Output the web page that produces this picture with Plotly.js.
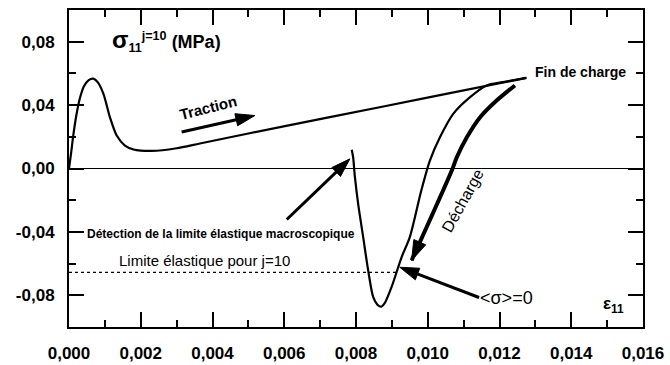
<!DOCTYPE html>
<html><head><meta charset="utf-8">
<script src="https://cdn.plot.ly/plotly-3.0.1.min.js"></script>
<style>html,body{margin:0;padding:0;background:#fff}</style>
</head><body><div id="chart" style="width:670px;height:365px"></div>
<script>
// Loading branch (traction) up to "Fin de charge"
const loadX = [0, 0.00006, 0.00012, 0.00020, 0.00030, 0.00042, 0.00055, 0.00068, 0.00080, 0.00096, 0.00114, 0.00133, 0.00156, 0.00180, 0.00200, 0.00230, 0.00260, 0.00300, 0.00365, 0.00500, 0.00727, 0.01006, 0.01275];
const loadY = [0, 0.010, 0.021, 0.033, 0.044, 0.052, 0.0558, 0.0567, 0.0545, 0.0471, 0.0324, 0.0208, 0.0145, 0.0120, 0.0113, 0.0111, 0.0115, 0.0128, 0.0158, 0.0221, 0.0324, 0.0450, 0.0572];
// Unloading branch (thin curve)
const unloadX = [0.01275, 0.01210, 0.01164, 0.01118, 0.01071, 0.01034, 0.01006, 0.00982, 0.00950, 0.00927, 0.00899, 0.00880, 0.00871, 0.00860, 0.00848, 0.00834, 0.00820, 0.00806, 0.00797, 0.00792, 0.00788];
const unloadY = [0.0572, 0.0545, 0.0524, 0.0450, 0.0345, 0.0197, 0.0050, -0.0139, -0.0433, -0.0560, -0.0749, -0.0850, -0.0871, -0.0860, -0.0812, -0.0644, -0.0433, -0.0223, -0.0055, 0.0071, 0.0118];
// "Décharge" thick curve ending with an arrow
const dechargeX = [0.01243, 0.01192, 0.01146, 0.01109, 0.01081, 0.01067, 0.00955];
const dechargeY = [0.0524, 0.0429, 0.0324, 0.0197, 0.0071, -0.0013, -0.0580];
// Elastic limit for j=10 (dotted)
const limitX = [0, 0.00915];
const limitY = [-0.0655, -0.0655];
// Arrows [tail, tip]
const tractionArrowX = [0.00314, 0.00518];
const tractionArrowY = [0.0230, 0.0334];
const detectionArrowX = [0.00607, 0.00783];
const detectionArrowY = [-0.0322, 0.0061];
const sigmaArrowX = [0.01143, 0.00922];
const sigmaArrowY = [-0.0814, -0.0623];
// Ticks
const xTickVals = [0, 0.002, 0.004, 0.006, 0.008, 0.010, 0.012, 0.014, 0.016];
const xTickText = ['0,000', '0,002', '0,004', '0,006', '0,008', '0,010', '0,012', '0,014', '0,016'];
const yTickVals = [-0.08, -0.04, 0, 0.04, 0.08];
const yTickText = ['-0,08', '-0,04', '0,00', '0,04', '0,08'];

const FONT = 'Liberation Sans, Arial, Helvetica, sans-serif';
const line = (x, y, w, extra) => Object.assign({x, y, type: 'scatter', mode: 'lines', hoverinfo: 'skip', showlegend: false,
  line: {color: 'black', width: w, shape: 'spline', smoothing: 0.8}}, extra || {});
const arrowMarker = (n, s) => ({symbol: 'arrow', angleref: 'previous', color: 'black', opacity: 1,
  line: {color: 'black', width: 1},
  size: Array.from({length: n}, (_, i) => i === n - 1 ? s : 0)});
const arrowTrace = (x, y) => ({x, y, type: 'scatter', mode: 'lines+markers', hoverinfo: 'skip', showlegend: false,
  line: {color: 'black', width: 3}, marker: arrowMarker(x.length, 20)});

const traces = [
  line(loadX, loadY, 2.2),
  line(unloadX, unloadY, 2.2),
  line(dechargeX, dechargeY, 4, {mode: 'lines+markers', marker: arrowMarker(dechargeX.length, 21)}),
  {x: limitX, y: limitY, type: 'scatter', mode: 'lines', hoverinfo: 'skip', showlegend: false, line: {color: 'black', width: 1.2, dash: 'dot'}},
  arrowTrace(tractionArrowX, tractionArrowY),
  arrowTrace(detectionArrowX, detectionArrowY),
  arrowTrace(sigmaArrowX, sigmaArrowY)
];

const ann = (x, y, text, size, opts) => Object.assign({x, y, xref: 'x', yref: 'y', text, showarrow: false,
  font: {family: FONT, size, color: 'black'}}, opts || {});

const layout = {
  width: 670, height: 365,
  margin: {l: 69, r: 27, t: 10, b: 38},
  paper_bgcolor: 'white', plot_bgcolor: 'white',
  separators: ', ',
  showlegend: false,
  xaxis: {
    range: [0, 0.016], showline: true, linecolor: 'black', linewidth: 2, mirror: 'ticks',
    ticks: 'inside', ticklen: 15, tickwidth: 2, tickcolor: 'black',
    tickmode: 'array', tickvals: xTickVals, ticktext: xTickText,
    tickfont: {family: FONT, size: 17, color: 'black', weight: 'bold'}, ticklabelstandoff: 10,
    minor: {tickmode: 'linear', tick0: 0, dtick: 0.001, ticks: 'inside', ticklen: 7, tickwidth: 2, tickcolor: 'black', showgrid: false},
    showgrid: false, zeroline: false, fixedrange: true
  },
  yaxis: {
    range: [-0.1, 0.1], showline: true, linecolor: 'black', linewidth: 2, mirror: 'ticks',
    ticks: 'inside', ticklen: 15, tickwidth: 2, tickcolor: 'black',
    tickmode: 'array', tickvals: yTickVals, ticktext: yTickText,
    tickfont: {family: FONT, size: 17, color: 'black', weight: 'bold'}, ticklabelstandoff: 9,
    minor: {tickmode: 'linear', tick0: 0, dtick: 0.02, ticks: 'inside', ticklen: 7, tickwidth: 2, tickcolor: 'black', showgrid: false},
    showgrid: false, zeroline: true, zerolinecolor: 'black', zerolinewidth: 1.5, fixedrange: true
  },
  annotations: [
    ann(0.00114, 0.0805, '<b><span style="font-size:24px">σ</span><sub>11</sub><sup>j=10</sup> (MPa)</b>', 18, {xanchor: 'left', yanchor: 'middle'}),
    ann(0.00388, 0.0385, '<b>Traction</b>', 15, {textangle: -14}),
    ann(0.01293, 0.0606, '<b>Fin de charge</b>', 14, {xanchor: 'left'}),
    ann(0.01098, -0.0202, 'Décharge', 16, {textangle: -61}),
    ann(0.000446, -0.0416, '<b>Détection de la limite élastique macroscopique</b>', 12, {xanchor: 'left'}),
    ann(0.00379, -0.0580, 'Limite élastique pour j=10', 15),
    ann(0.01220, -0.0814, '<σ>=0', 18),
    ann(0.01519, -0.0864, '<b>ε<sub>11</sub></b>', 17)
  ]
};

Plotly.newPlot('chart', traces, layout, {displayModeBar: false, staticPlot: true});
</script>
</body></html>
